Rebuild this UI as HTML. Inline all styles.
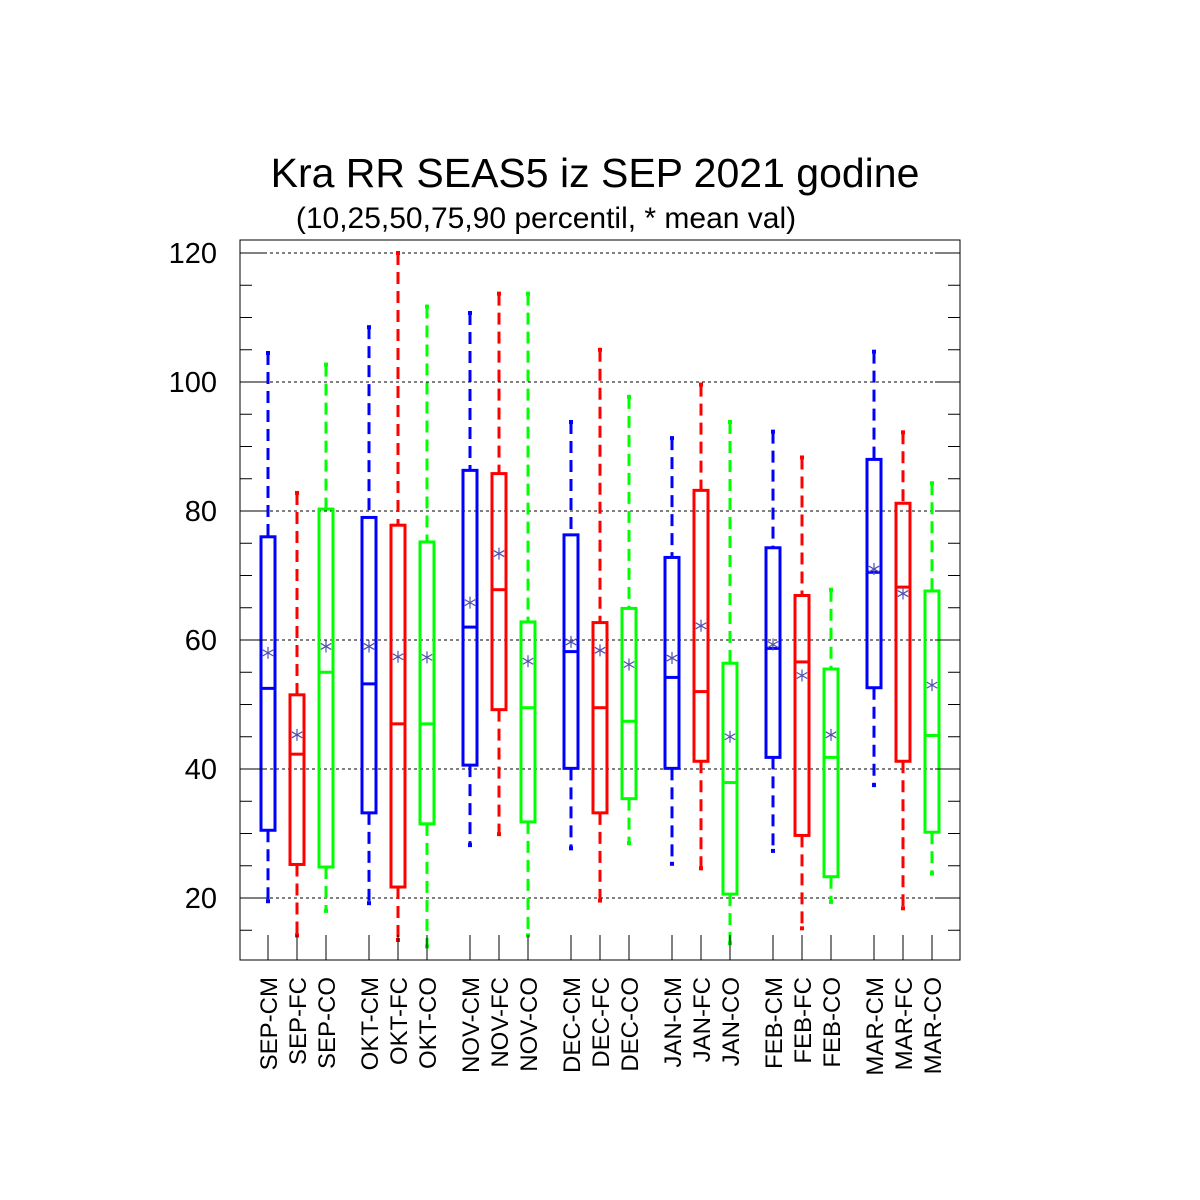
<!DOCTYPE html>
<html><head><meta charset="utf-8"><style>
body{margin:0;background:#fff;}
svg{display:block;font-family:"Liberation Sans",sans-serif;}
</style></head><body>
<svg id="chart" width="1200" height="1200" viewBox="0 0 1200 1200">
<rect width="1200" height="1200" fill="#fff"/>
<text x="595" y="187" font-size="41" text-anchor="middle">Kra RR SEAS5 iz SEP 2021 godine</text>
<text x="546" y="228" font-size="30" text-anchor="middle">(10,25,50,75,90 percentil, * mean val)</text>
<g id="grid"></g>
<g id="boxes"></g>
<rect x="240" y="240" width="720" height="720" fill="none" stroke="#000" stroke-width="1"/>
<g id="axes"></g>
</svg>
<script>
const categories=["SEP-CM","SEP-FC","SEP-CO","OKT-CM","OKT-FC","OKT-CO","NOV-CM","NOV-FC","NOV-CO","DEC-CM","DEC-FC","DEC-CO","JAN-CM","JAN-FC","JAN-CO","FEB-CM","FEB-FC","FEB-CO","MAR-CM","MAR-FC","MAR-CO"];
const p90=[104.5,82.8,102.7,108.5,120,111.7,110.7,113.7,113.7,93.8,105,97.7,91.3,99.6,93.8,92.3,88.3,67.8,104.7,92.2,84.3];
const p75=[76,51.5,80.3,79,77.8,75.2,86.3,85.8,62.8,76.3,62.7,64.9,72.8,83.2,56.4,74.3,66.9,55.5,88,81.2,67.6];
const p50=[52.5,42.3,55,53.2,47,47,62,67.8,49.5,58.2,49.5,47.4,54.2,52,37.9,58.7,56.6,41.8,70.5,68.2,45.2];
const p25=[30.5,25.2,24.8,33.2,21.7,31.5,40.6,49.2,31.8,40.1,33.2,35.4,40.1,41.2,20.6,41.8,29.7,23.3,52.6,41.2,30.2];
const p10=[19.5,14.2,18,19.2,13.5,12.5,28.2,29.9,14.2,27.7,19.6,28.5,25.3,24.6,13,27.3,15.3,19.4,37.5,18.4,23.8];
const means=[58,45.3,59,59,57.4,57.3,65.8,73.4,56.7,59.7,58.4,56.2,57.2,62.2,45,59.3,54.5,45.3,71,67.2,53];
const yTicks=[20,40,60,80,100,120];
const NS="http://www.w3.org/2000/svg";
const colors=["#0000ff","#ff0000","#00ff00"];
function y(v){return 253+(120-v)*6.45;}
function x(i){return 268+Math.floor(i/3)*101+(i%3)*29;}
function mk(tag,attrs,parent){const e=document.createElementNS(NS,tag);for(const k in attrs)e.setAttribute(k,attrs[k]);parent.appendChild(e);return e;}
const grid=document.getElementById('grid'),boxes=document.getElementById('boxes'),axes=document.getElementById('axes');
yTicks.forEach(t=>{
  const l=mk('line',{x1:240,x2:960,y1:y(t),y2:y(t),stroke:'#000','stroke-width':1,'stroke-dasharray':'3,3'},grid);
  
  
  const tx=mk('text',{x:217,y:y(t)+10,'font-size':29,'text-anchor':'end'},axes);
  tx.textContent=t;
  
  
  mk('line',{x1:240,x2:265,y1:y(t),y2:y(t),stroke:'#000'},axes);
  mk('line',{x1:935,x2:960,y1:y(t),y2:y(t),stroke:'#000'},axes);
});
for(let v=15;v<=120;v+=5){if(v%20===0)continue;
  mk('line',{x1:240,x2:252,y1:y(v),y2:y(v),stroke:'#000'},axes);
  mk('line',{x1:948,x2:960,y1:y(v),y2:y(v),stroke:'#000'},axes);}
categories.forEach((c,i)=>{
  const cx=x(i),col=colors[i%3],w=7;
  const g=mk('g',{},boxes);
  
  
  mk('line',{x1:cx,x2:cx,y1:y(p90[i]),y2:y(p75[i]),stroke:col,'stroke-width':3,'stroke-dasharray':'12,7'},g);
  mk('line',{x1:cx,x2:cx,y1:y(p25[i]),y2:y(p10[i]),stroke:col,'stroke-width':3,'stroke-dasharray':'12,7'},g);
  mk('rect',{x:cx-2,y:y(p90[i])-2,width:4,height:4,fill:col},g);
  mk('rect',{x:cx-2,y:y(p10[i])-2,width:4,height:4,fill:col},g);
  mk('rect',{x:cx-w,y:y(p75[i]),width:2*w,height:y(p25[i])-y(p75[i]),fill:'none',stroke:col,'stroke-width':3},g);
  mk('line',{x1:cx-w,x2:cx+w,y1:y(p50[i]),y2:y(p50[i]),stroke:col,'stroke-width':3},g);
  const my=y(means[i]),r=6;
  const m=mk('path',{d:'M'+cx+' '+(my-r)+'V'+(my+r)+'M'+(cx-5.2)+' '+(my-3)+'L'+(cx+5.2)+' '+(my+3)+'M'+(cx-5.2)+' '+(my+3)+'L'+(cx+5.2)+' '+(my-3),stroke:'#5050b0','stroke-width':1.2,fill:'none'},g);
  
  
  mk('line',{x1:cx,x2:cx,y1:935,y2:960,stroke:'#000'},axes);
  const t=mk('text',{x:0,y:0,'font-size':24,transform:'translate('+(cx+9)+',977) rotate(-90)','text-anchor':'end'},axes);
  t.textContent=c;
  
  
});
</script>
</body></html>
